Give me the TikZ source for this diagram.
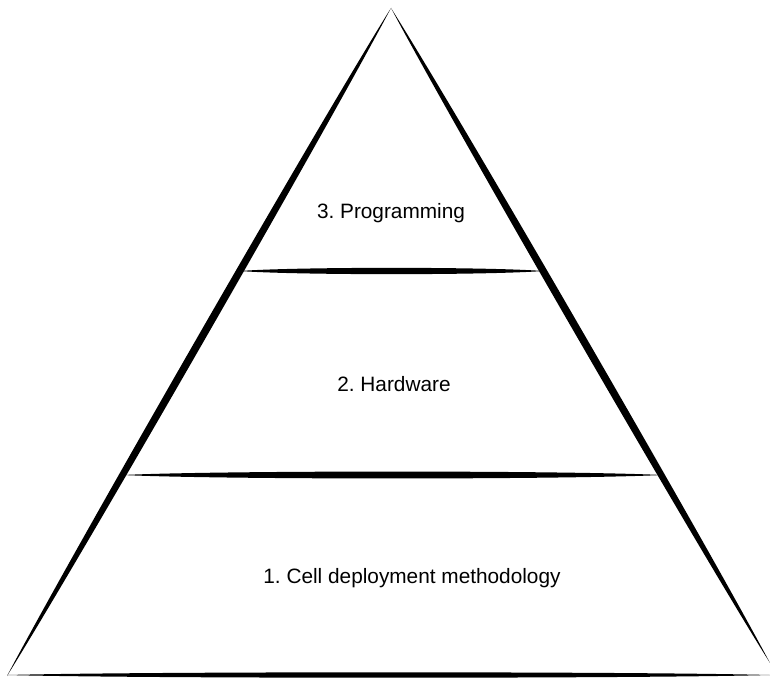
\documentclass[tikz,border=0pt]{standalone}
\usepackage{fontspec}
\setmainfont{Liberation Sans}
\usetikzlibrary{calc}
\frenchspacing

\begin{document}
\begin{tikzpicture}[x=1pt, y=-1pt,
	brush/.style={to path={
		.. controls ($(\tikztostart)!0.18!(\tikztotarget)!#1!90:(\tikztotarget)$) and ($(\tikztostart)!0.82!(\tikztotarget)!#1!90:(\tikztotarget)$) .. (\tikztotarget)
		.. controls ($(\tikztostart)!0.82!(\tikztotarget)!#1!-90:(\tikztotarget)$) and ($(\tikztostart)!0.18!(\tikztotarget)!#1!-90:(\tikztotarget)$) .. (\tikztostart)}},
	tier/.style={font=\fontsize{20.8}{24}\selectfont, inner sep=0pt}]
	\useasboundingbox (0,0) rectangle (770,677);
	% corners of the pyramid
	\coordinate (apex) at (391,8);
	\coordinate (bl) at (7,676);
	\coordinate (br) at (770,663);
	\coordinate (baseL) at (7,675);
	\coordinate (baseR) at (770,675);
	% dividing lines
	\coordinate (topL) at (240,271);
	\coordinate (topR) at (543,271);
	\coordinate (midL) at (123,475);
	\coordinate (midR) at (662,475);
	\fill (apex) to[brush=5pt] (bl);
	\fill (apex) to[brush=5pt] (br);
	\fill (baseL) to[brush=3.6pt] (baseR);
	\fill (topL) to[brush=4.2pt] (topR);
	\fill (midL) to[brush=4.6pt] (midR);
	\node[tier] (prog) at (391,213) {3. Programming};
	\node[tier] (hw) at (394,384) {2. Hardware};
	\node[tier] (cell) at (412,578) {1. Cell deployment methodology};
\end{tikzpicture}
\end{document}
